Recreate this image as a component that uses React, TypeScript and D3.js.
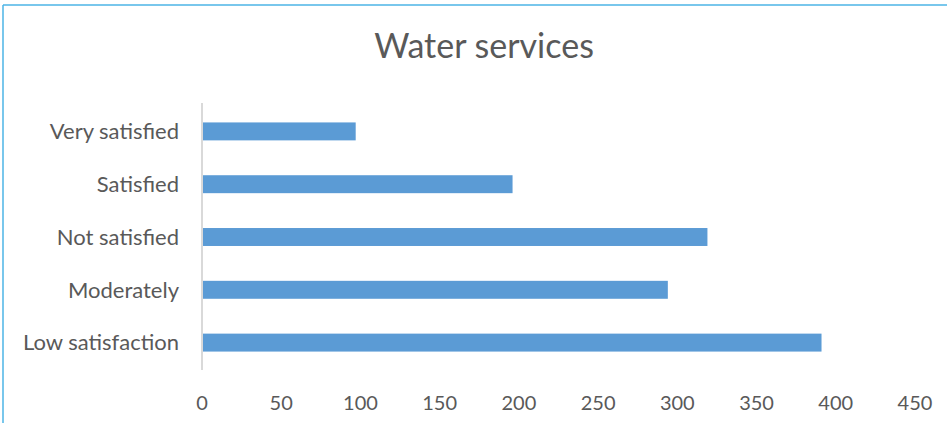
import React from "react";
import * as d3 from "d3";

const categories = ["Very satisfied", "Satisfied", "Not satisfied", "Moderately", "Low satisfaction"];
const values = [97, 196, 319, 294, 391];
const xTicks = [0, 50, 100, 150, 200, 250, 300, 350, 400, 450];
const title = "Water services";

const W = 947;
const H = 423;
const FONT = "Lato, 'Open Sans', sans-serif";

export default function App() {
  const x = d3.scaleLinear().domain([0, 450]).range([202, 915]);
  const y = d3.scaleBand<string>().domain(categories).range([105, 369]).paddingInner(0.66).paddingOuter(0.33);

  return (
    <svg width={W} height={H} style={{ position: "absolute", left: 0, top: 0, background: "#fff" }}>
      <rect x={0} y={0} width={W} height={H} fill="#fff" />
      {/* chart frame */}
      <line x1={3} y1={5} x2={W} y2={5} stroke="#4cb5e6" strokeWidth={1.5} />
      <line x1={3} y1={5} x2={3} y2={H} stroke="#4cb5e6" strokeWidth={1.5} />

      <text x={484} y={58} textAnchor="middle" fontFamily={FONT} fontSize={34} fill="#595959">
        {title}
      </text>

      {categories.map((c, i) => (
        <rect key={c} x={x(0)} y={y(c)!} width={x(values[i]) - x(0)} height={y.bandwidth()} fill="#5b9bd5" />
      ))}

      <line x1={x(0)} y1={103} x2={x(0)} y2={370} stroke="#d9d9d9" strokeWidth={2} />

      {categories.map((c) => (
        <text key={c} x={179} y={y(c)! + y.bandwidth() / 2} dy="0.35em" textAnchor="end" fontFamily={FONT} fontSize={22} fill="#595959">
          {c}
        </text>
      ))}

      {xTicks.map((t) => (
        <text key={t} x={x(t)} y={410} textAnchor="middle" fontFamily={FONT} fontSize={20} fill="#595959">
          {t}
        </text>
      ))}
    </svg>
  );
}
